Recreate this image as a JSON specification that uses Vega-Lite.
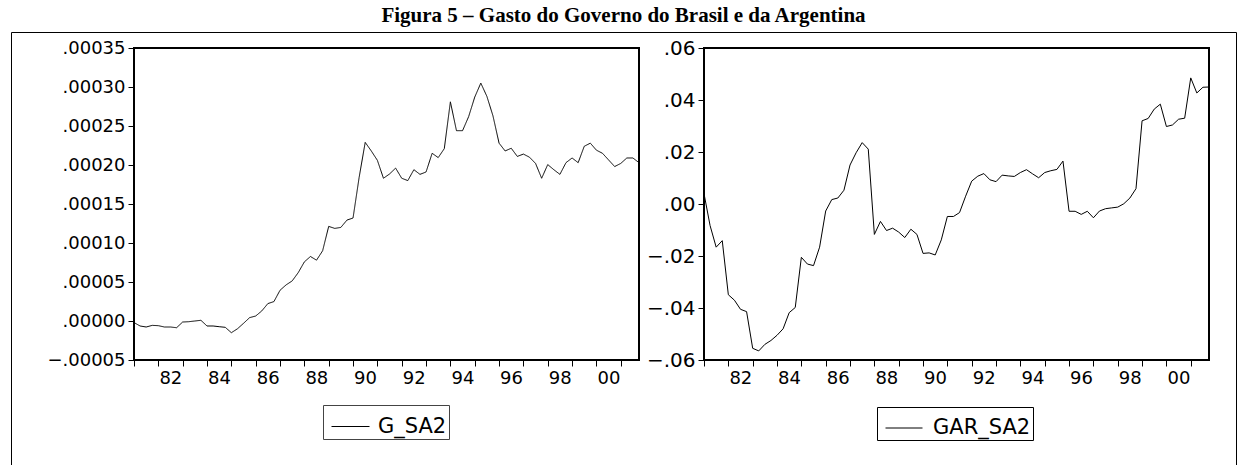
{
  "$schema": "https://vega.github.io/schema/vega-lite/v6.json",
  "padding": {"left": 9, "top": 4, "right": 5, "bottom": 0},
  "background": "white",
  "title": {"text": "Figura 5 – Gasto do Governo do Brasil e da Argentina", "font": "Liberation Serif", "fontSize": 21, "fontWeight": "bold", "color": "black", "anchor": "middle", "offset": 5},
  "datasets": {
    "br": [
      {"t": 1981, "v": -0.000002}, {"t": 1981.25, "v": -0.0000064}, {"t": 1981.5, "v": -0.0000077}, {"t": 1981.75, "v": -0.0000056},
      {"t": 1982, "v": -0.000006}, {"t": 1982.25, "v": -0.0000077}, {"t": 1982.5, "v": -0.0000077}, {"t": 1982.75, "v": -0.0000086},
      {"t": 1983, "v": -0.0000013}, {"t": 1983.25, "v": -0.0000009}, {"t": 1983.5, "v": 0.0}, {"t": 1983.75, "v": 0.0000009},
      {"t": 1984, "v": -0.0000064}, {"t": 1984.25, "v": -0.0000064}, {"t": 1984.5, "v": -0.0000073}, {"t": 1984.75, "v": -0.0000081},
      {"t": 1985, "v": -0.000015}, {"t": 1985.25, "v": -0.00001}, {"t": 1985.5, "v": -0.000003}, {"t": 1985.75, "v": 0.0000043},
      {"t": 1986, "v": 0.0000064}, {"t": 1986.25, "v": 0.0000129}, {"t": 1986.5, "v": 0.0000223}, {"t": 1986.75, "v": 0.0000249},
      {"t": 1987, "v": 0.0000394}, {"t": 1987.25, "v": 0.0000463}, {"t": 1987.5, "v": 0.0000514}, {"t": 1987.75, "v": 0.0000621},
      {"t": 1988, "v": 0.0000758}, {"t": 1988.25, "v": 0.0000827}, {"t": 1988.5, "v": 0.000078}, {"t": 1988.75, "v": 0.00009},
      {"t": 1989, "v": 0.0001213}, {"t": 1989.25, "v": 0.0001187}, {"t": 1989.5, "v": 0.00012}, {"t": 1989.75, "v": 0.0001294},
      {"t": 1990, "v": 0.000132}, {"t": 1990.25, "v": 0.000184}, {"t": 1990.5, "v": 0.000229}, {"t": 1990.75, "v": 0.000218},
      {"t": 1991, "v": 0.000206}, {"t": 1991.25, "v": 0.000183}, {"t": 1991.5, "v": 0.0001885}, {"t": 1991.75, "v": 0.000196},
      {"t": 1992, "v": 0.000183}, {"t": 1992.25, "v": 0.00018}, {"t": 1992.5, "v": 0.000194}, {"t": 1992.75, "v": 0.000188},
      {"t": 1993, "v": 0.000191}, {"t": 1993.25, "v": 0.000215}, {"t": 1993.5, "v": 0.0002095}, {"t": 1993.75, "v": 0.000221},
      {"t": 1994, "v": 0.000281}, {"t": 1994.25, "v": 0.000244}, {"t": 1994.5, "v": 0.000244}, {"t": 1994.75, "v": 0.000262},
      {"t": 1995, "v": 0.000287}, {"t": 1995.25, "v": 0.000305}, {"t": 1995.5, "v": 0.000288}, {"t": 1995.75, "v": 0.000263},
      {"t": 1996, "v": 0.000228}, {"t": 1996.25, "v": 0.000218}, {"t": 1996.5, "v": 0.0002215}, {"t": 1996.75, "v": 0.000211},
      {"t": 1997, "v": 0.000214}, {"t": 1997.25, "v": 0.00021}, {"t": 1997.5, "v": 0.000202}, {"t": 1997.75, "v": 0.000183},
      {"t": 1998, "v": 0.0002005}, {"t": 1998.25, "v": 0.000194}, {"t": 1998.5, "v": 0.000188}, {"t": 1998.75, "v": 0.000203},
      {"t": 1999, "v": 0.000209}, {"t": 1999.25, "v": 0.000203}, {"t": 1999.5, "v": 0.000224}, {"t": 1999.75, "v": 0.000228},
      {"t": 2000, "v": 0.000219}, {"t": 2000.25, "v": 0.000215}, {"t": 2000.5, "v": 0.0002065}, {"t": 2000.75, "v": 0.000198},
      {"t": 2001, "v": 0.000202}, {"t": 2001.25, "v": 0.000209}, {"t": 2001.5, "v": 0.000209}, {"t": 2001.75, "v": 0.000203}
    ],
    "ar": [
      {"t": 1981, "v": 0.004}, {"t": 1981.25, "v": -0.0083}, {"t": 1981.5, "v": -0.0166}, {"t": 1981.75, "v": -0.0141},
      {"t": 1982, "v": -0.0349}, {"t": 1982.25, "v": -0.037}, {"t": 1982.5, "v": -0.0405}, {"t": 1982.75, "v": -0.0414},
      {"t": 1983, "v": -0.0555}, {"t": 1983.25, "v": -0.0565}, {"t": 1983.5, "v": -0.054}, {"t": 1983.75, "v": -0.0525},
      {"t": 1984, "v": -0.0505}, {"t": 1984.25, "v": -0.048}, {"t": 1984.5, "v": -0.0418}, {"t": 1984.75, "v": -0.0398},
      {"t": 1985, "v": -0.0205}, {"t": 1985.25, "v": -0.0231}, {"t": 1985.5, "v": -0.0237}, {"t": 1985.75, "v": -0.0166},
      {"t": 1986, "v": -0.0027}, {"t": 1986.25, "v": 0.0017}, {"t": 1986.5, "v": 0.0023}, {"t": 1986.75, "v": 0.0053},
      {"t": 1987, "v": 0.015}, {"t": 1987.25, "v": 0.0197}, {"t": 1987.5, "v": 0.0236}, {"t": 1987.75, "v": 0.0211},
      {"t": 1988, "v": -0.0117}, {"t": 1988.25, "v": -0.0067}, {"t": 1988.5, "v": -0.0102}, {"t": 1988.75, "v": -0.0093},
      {"t": 1989, "v": -0.0108}, {"t": 1989.25, "v": -0.0129}, {"t": 1989.5, "v": -0.0097}, {"t": 1989.75, "v": -0.0117},
      {"t": 1990, "v": -0.019}, {"t": 1990.25, "v": -0.0188}, {"t": 1990.5, "v": -0.0196}, {"t": 1990.75, "v": -0.0138},
      {"t": 1991, "v": -0.0048}, {"t": 1991.25, "v": -0.0048}, {"t": 1991.5, "v": -0.0033}, {"t": 1991.75, "v": 0.003},
      {"t": 1992, "v": 0.0088}, {"t": 1992.25, "v": 0.0107}, {"t": 1992.5, "v": 0.0117}, {"t": 1992.75, "v": 0.0093},
      {"t": 1993, "v": 0.0086}, {"t": 1993.25, "v": 0.0111}, {"t": 1993.5, "v": 0.0108}, {"t": 1993.75, "v": 0.0106},
      {"t": 1994, "v": 0.0121}, {"t": 1994.25, "v": 0.0132}, {"t": 1994.5, "v": 0.0116}, {"t": 1994.75, "v": 0.0101},
      {"t": 1995, "v": 0.0121}, {"t": 1995.25, "v": 0.0128}, {"t": 1995.5, "v": 0.0133}, {"t": 1995.75, "v": 0.0165},
      {"t": 1996, "v": -0.0028}, {"t": 1996.25, "v": -0.0028}, {"t": 1996.5, "v": -0.004}, {"t": 1996.75, "v": -0.0028},
      {"t": 1997, "v": -0.0053}, {"t": 1997.25, "v": -0.0027}, {"t": 1997.5, "v": -0.0018}, {"t": 1997.75, "v": -0.0015},
      {"t": 1998, "v": -0.0012}, {"t": 1998.25, "v": 0.0001}, {"t": 1998.5, "v": 0.0023}, {"t": 1998.75, "v": 0.0059},
      {"t": 1999, "v": 0.032}, {"t": 1999.25, "v": 0.0329}, {"t": 1999.5, "v": 0.0365}, {"t": 1999.75, "v": 0.0384},
      {"t": 2000, "v": 0.0298}, {"t": 2000.25, "v": 0.0304}, {"t": 2000.5, "v": 0.0326}, {"t": 2000.75, "v": 0.033},
      {"t": 2001, "v": 0.0485}, {"t": 2001.25, "v": 0.0427}, {"t": 2001.5, "v": 0.0449}, {"t": 2001.75, "v": 0.045}
    ]
  },
  "bounds": "flush",
  "spacing": 65,
  "hconcat": [
    {
      "width": 505,
      "height": 312,
      "data": {"name": "br"},
      "mark": {"type": "line", "strokeWidth": 1},
      "encoding": {
        "x": {"field": "t", "type": "quantitative",
          "scale": {"domain": [1981, 2001.75], "nice": false, "zero": false},
          "axis": {"values": [1981,1982,1983,1984,1985,1986,1987,1988,1989,1990,1991,1992,1993,1994,1995,1996,1997,1998,1999,2000,2001],
            "labelExpr": "datum.value % 2 == 0 ? slice(toString(datum.value), 2) : ''",
            "labelOffset": 12, "labelFlush": false, "labelOverlap": false, "labelBound": false}},
        "y": {"field": "v", "type": "quantitative",
          "scale": {"domain": [-0.00005, 0.00035], "nice": false, "zero": false},
          "axis": {"values": [-0.00005, 0, 0.00005, 0.0001, 0.00015, 0.0002, 0.00025, 0.0003, 0.00035],
            "labelExpr": "replace(format(datum.value, '.5f'), '0.', '.')"}},
        "color": {"datum": "G_SA2", "scale": {"range": ["black"]},
          "legend": {"orient": "none", "legendX": 189, "legendY": 357, "direction": "horizontal", "padding": 2, "symbolOffset": 6, "strokeColor": "#444", "symbolType": "stroke", "symbolSize": 1444, "symbolStrokeWidth": 1, "symbolStrokeColor": "#555", "labelFont": "DejaVu Sans", "labelFontSize": 21, "labelColor": "black", "labelOffset": 8, "title": null}},
        "strokeDash": {"datum": " ", "scale": {"range": [[1, 0]]},
          "legend": {"orient": "none", "legendX": -123, "legendY": -16, "padding": 213, "strokeColor": "black", "symbolOpacity": 0, "labelOpacity": 0, "labelOffset": 787, "title": null}}
      }
    },
    {
      "width": 505,
      "height": 312,
      "data": {"name": "ar"},
      "mark": {"type": "line", "strokeWidth": 1},
      "encoding": {
        "x": {"field": "t", "type": "quantitative",
          "scale": {"domain": [1981, 2001.75], "nice": false, "zero": false},
          "axis": {"values": [1981,1982,1983,1984,1985,1986,1987,1988,1989,1990,1991,1992,1993,1994,1995,1996,1997,1998,1999,2000,2001],
            "labelExpr": "datum.value % 2 == 0 ? slice(toString(datum.value), 2) : ''",
            "labelOffset": 12, "labelFlush": false, "labelOverlap": false, "labelBound": false}},
        "y": {"field": "v", "type": "quantitative",
          "scale": {"domain": [-0.06, 0.06], "nice": false, "zero": false},
          "axis": {"values": [-0.06, -0.04, -0.02, 0, 0.02, 0.04, 0.06],
            "labelExpr": "replace(format(datum.value, '.2f'), '0.', '.')", "labelFontSize": 20}},
        "color": {"datum": "GAR_SA2", "scale": {"range": ["black"]},
          "legend": {"orient": "none", "legendX": 173, "legendY": 359, "direction": "horizontal", "padding": 2, "symbolOffset": 6, "strokeColor": "black", "symbolType": "stroke", "symbolSize": 1369, "symbolStrokeWidth": 1, "symbolStrokeColor": "black", "labelFont": "DejaVu Sans", "labelFontSize": 21, "labelColor": "black", "labelOffset": 10, "title": null}}
      }
    }
  ],
  "resolve": {"scale": {"color": "independent", "strokeDash": "independent", "x": "independent", "y": "independent"}},
  "config": {
    "view": {"stroke": "black", "strokeWidth": 2},
    "axis": {"domain": false, "grid": false, "ticks": true, "tickColor": "black", "tickWidth": 1, "tickSize": 6, "labelColor": "black", "labelFont": "DejaVu Sans", "labelFontSize": 18, "labelPadding": 3, "title": null},
    "line": {"color": "black"}
  }
}
